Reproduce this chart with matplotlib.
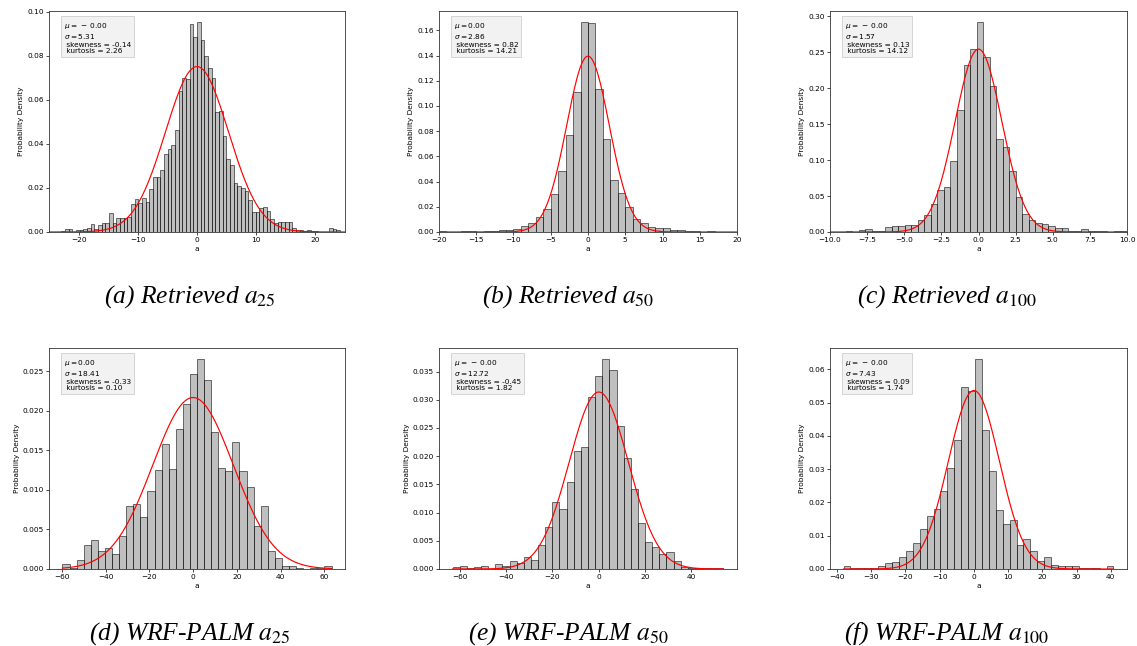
import numpy as np
import matplotlib
matplotlib.use("Agg")
import matplotlib.pyplot as plt

# ---------------------------------------------------------------- data
# histogram densities (left to right) and the range covered by the bins
dens_ret25 = [0.0001, 0.0002, 0.0002, 0.0003, 0.0013, 0.0013, 0.0002, 0.0008, 0.0008, 0.0015,
              0.0020, 0.0036, 0.0013, 0.0030, 0.0040, 0.0040, 0.0087, 0.0040, 0.0063, 0.0063,
              0.0065, 0.0067, 0.0125, 0.0148, 0.0130, 0.0156, 0.0135, 0.0196, 0.0250, 0.0248,
              0.0280, 0.0355, 0.0378, 0.0395, 0.0465, 0.0640, 0.0700, 0.0695, 0.0944, 0.0884,
              0.0956, 0.0872, 0.0800, 0.0745, 0.0700, 0.0547, 0.0550, 0.0434, 0.0333, 0.0303,
              0.0223, 0.0208, 0.0202, 0.0187, 0.0143, 0.0090, 0.0089, 0.0107, 0.0115, 0.0095,
              0.0059, 0.0041, 0.0047, 0.0047, 0.0047, 0.0044, 0.0020, 0.0011, 0.0009, 0.0005,
              0.0009, 0.0003, 0.0003, 0.0002, 0.0002, 0.0002, 0.0020, 0.0012, 0.0009, 0.0001]
range_ret25 = (-24.8, 24.8)

dens_ret50 = [0.0010, 0.0003, 0.0002, 0.0004, 0.0005, 0.0003, 0.0004, 0.0008, 0.0018, 0.0019,
              0.0026, 0.0045, 0.0068, 0.0120, 0.0180, 0.0300, 0.0482, 0.0766, 0.1110, 0.1670,
              0.1662, 0.1135, 0.0740, 0.0410, 0.0308, 0.0200, 0.0103, 0.0075, 0.0037, 0.0029,
              0.0028, 0.0016, 0.0012, 0.0006, 0.0004, 0.0003, 0.0004, 0.0002, 0.0001, 0.0001]
range_ret50 = (-20.0, 20.0)

dens_ret100 = [0.0005, 0.0005, 0.0003, 0.0012, 0.0005, 0.0023, 0.0048, 0.0015, 0.0010, 0.0070,
               0.0080, 0.0090, 0.0100, 0.0100, 0.0170, 0.0240, 0.0390, 0.0580, 0.0630, 0.0990,
               0.1700, 0.2320, 0.2540, 0.2925, 0.2430, 0.2030, 0.1290, 0.1180, 0.0850, 0.0480,
               0.0245, 0.0165, 0.0130, 0.0110, 0.0080, 0.0050, 0.0050, 0.0010, 0.0020, 0.0045,
               0.0015, 0.0010, 0.0012, 0.0003, 0.0015, 0.0015]
range_ret100 = (-10.25, 9.99)

dens_wrf25 = [0.0006, 0.0001, 0.0011, 0.0030, 0.0037, 0.0023, 0.0027, 0.0019, 0.0042, 0.0080,
              0.0082, 0.0066, 0.0098, 0.0125, 0.0158, 0.0127, 0.0177, 0.0208, 0.0246, 0.0266,
              0.0239, 0.0173, 0.0128, 0.0124, 0.0161, 0.0124, 0.0104, 0.0054, 0.0080, 0.0023,
              0.0014, 0.0004, 0.0004, 0.0001, 0.0000, 0.0001, 0.0001, 0.0004]
range_wrf25 = (-59.7, 63.3)

dens_wrf50 = [0.0003, 0.0005, 0.0001, 0.0003, 0.0005, 0.0000, 0.0009, 0.0006, 0.0014, 0.0011,
              0.0021, 0.0016, 0.0042, 0.0075, 0.0118, 0.0106, 0.0155, 0.0209, 0.0216, 0.0305,
              0.0342, 0.0373, 0.0352, 0.0254, 0.0196, 0.0141, 0.0081, 0.0048, 0.0039, 0.0027,
              0.0030, 0.0015, 0.0003, 0.0002, 0.0001, 0.0001, 0.0001, 0.0001]
range_wrf50 = (-63.1, 53.8)

dens_wrf100 = [0.0009, 0.0002, 0.0004, 0.0004, 0.0002, 0.0009, 0.0017, 0.0022, 0.0037, 0.0053,
               0.0077, 0.0120, 0.0158, 0.0180, 0.0234, 0.0304, 0.0389, 0.0548, 0.0534, 0.0633,
               0.0419, 0.0295, 0.0176, 0.0134, 0.0146, 0.0073, 0.0091, 0.0053, 0.0025, 0.0035,
               0.0012, 0.0008, 0.0008, 0.0008, 0.0002, 0.0003, 0.0002, 0.0001, 0.0008]
range_wrf100 = (-38.1, 40.8)

# summary statistics written in each panel
means = [-0.0, 0.0, -0.0, 0.0, -0.0, -0.0]
sigmas = [5.31, 2.86, 1.57, 18.41, 12.72, 7.43]
skews = [-0.14, 0.82, 0.13, -0.33, -0.45, 0.09]
kurts = [2.26, 14.21, 14.12, 0.10, 1.82, 1.74]

captions = [r"(a) Retrieved $a_{25}$", r"(b) Retrieved $a_{50}$", r"(c) Retrieved $a_{100}$",
            r"(d) WRF-PALM $a_{25}$", r"(e) WRF-PALM $a_{50}$", r"(f) WRF-PALM $a_{100}$"]

x_ticks = [[-20, -10, 0, 10, 20],
           [-20, -15, -10, -5, 0, 5, 10, 15, 20],
           [-10, -7.5, -5, -2.5, 0, 2.5, 5, 7.5, 10],
           [-60, -40, -20, 0, 20, 40, 60],
           [-60, -40, -20, 0, 20, 40],
           [-40, -30, -20, -10, 0, 10, 20, 30, 40]]
y_ticks = [[0.00, 0.02, 0.04, 0.06, 0.08, 0.10],
           [0.00, 0.02, 0.04, 0.06, 0.08, 0.10, 0.12, 0.14, 0.16],
           [0.00, 0.05, 0.10, 0.15, 0.20, 0.25, 0.30],
           [0.000, 0.005, 0.010, 0.015, 0.020, 0.025],
           [0.000, 0.005, 0.010, 0.015, 0.020, 0.025, 0.030, 0.035],
           [0.00, 0.01, 0.02, 0.03, 0.04, 0.05, 0.06]]
x_limits = [(-25, 25), (-20, 20), (-10, 10), None, None, None]

densities = [dens_ret25, dens_ret50, dens_ret100, dens_wrf25, dens_wrf50, dens_wrf100]
ranges = [range_ret25, range_ret50, range_ret100, range_wrf25, range_wrf50, range_wrf100]

# ---------------------------------------------------------------- style
plt.rcParams.update({
    "font.family": "DejaVu Sans",
    "font.size": 5.3,
    "axes.linewidth": 0.6,
    "axes.edgecolor": "#333333",
    "xtick.major.size": 2.0,
    "ytick.major.size": 2.0,
    "xtick.major.width": 0.5,
    "ytick.major.width": 0.5,
    "xtick.major.pad": 1.8,
    "ytick.major.pad": 1.8,
    "axes.labelpad": 2.0,
})

fig = plt.figure(figsize=(11.37, 6.46), dpi=100)

col_left = [0.0431, 0.3861, 0.7300]
col_width = [0.2603, 0.2621, 0.2612]
row_bottom = [0.6409, 0.1192]
ax_height = 0.3421
caption_x = [0.167, 0.4995, 0.833]
caption_y = [0.531, 0.0095]


def normal_pdf(x, mu, sd):
    return np.exp(-0.5 * ((x - mu) / sd) ** 2) / (sd * np.sqrt(2 * np.pi))


def mean_label(mu):
    s = f"{mu:.2f}"
    if s.startswith("-"):
        return f"$\\mu=\\,-\\:{s[1:]}$"
    return f"$\\mu={s}$"


for i in range(6):
    r, c = divmod(i, 3)
    ax = fig.add_axes([col_left[c], row_bottom[r], col_width[c], ax_height])
    dens = np.array(densities[i])
    edges = np.linspace(ranges[i][0], ranges[i][1], len(dens) + 1)
    ax.bar(edges[:-1], dens, width=np.diff(edges), align="edge",
           color=(0.5, 0.5, 0.5, 0.5), edgecolor=(0.0, 0.0, 0.0, 0.55), linewidth=0.7)

    if x_limits[i] is not None:
        ax.set_xlim(*x_limits[i])
        xs = np.linspace(x_limits[i][0], x_limits[i][1], 400)
    else:
        xs = np.linspace(edges[0], edges[-1], 400)
    ax.plot(xs, normal_pdf(xs, means[i], sigmas[i]), color="red", linewidth=0.85)

    ax.set_xticks(x_ticks[i])
    ax.set_yticks(y_ticks[i])
    ax.set_xlabel("a")
    ax.set_ylabel("Probability Density")

    stats = (mean_label(means[i]) + f"\n$\\sigma={sigmas[i]:.2f}$\n"
             f" skewness = {skews[i]:.2f}\n kurtosis = {kurts[i]:.2f}")
    ax.text(0.05, 0.955, stats, transform=ax.transAxes, va="top", ha="left",
            fontsize=5.3, linespacing=1.15,
            bbox=dict(boxstyle="square,pad=0.35", facecolor="#f2f2f2",
                      edgecolor="#cfcfcf", linewidth=0.6))

    fig.text(caption_x[c], caption_y[r], captions[i], ha="center", va="baseline",
             fontsize=18.4, fontfamily="Liberation Serif", fontstyle="italic",
             math_fontfamily="stix")

fig.savefig("out.png", dpi=100)
